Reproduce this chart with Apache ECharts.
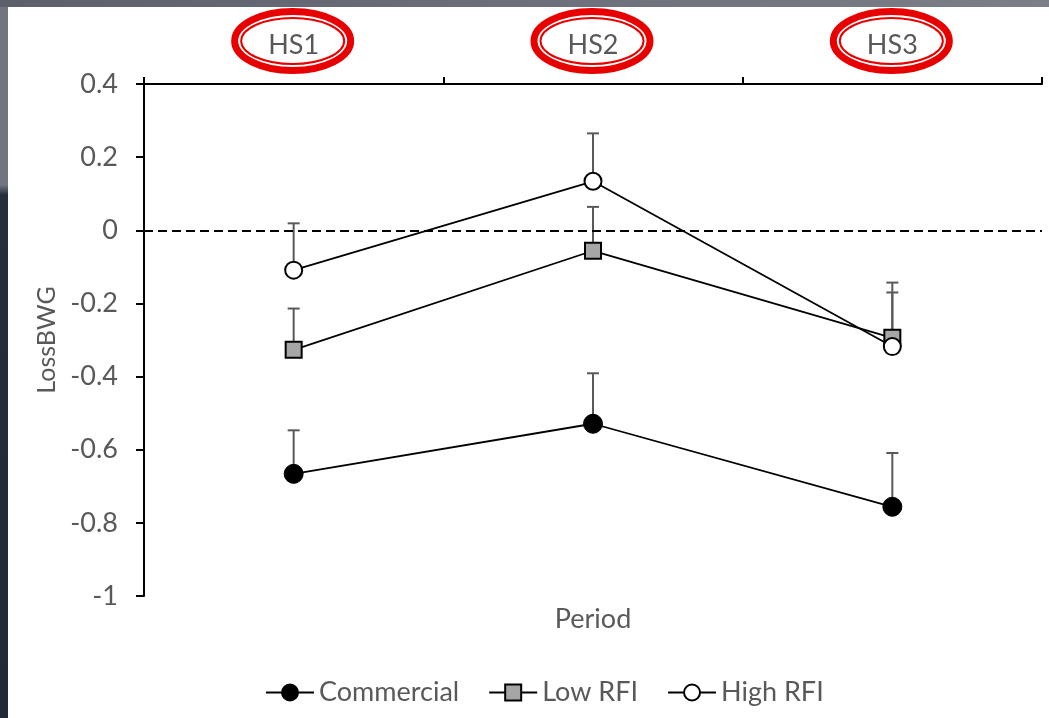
<!DOCTYPE html>
<html>
<head>
<meta charset="utf-8">
<script src="https://cdn.jsdelivr.net/npm/echarts@6/dist/echarts.min.js"></script>
<style>
html,body{margin:0;padding:0;width:1049px;height:718px;overflow:hidden;}
/* dark slide frame round the white chart area */
body{background:linear-gradient(to bottom,#70757f 0,#70757f 185px,#262d3b 195px,#222936 100%);}
.top_strip{position:absolute;left:0;top:0;width:1049px;height:7px;background:linear-gradient(to right,#5b606b,#7b7f88);}
#chart{position:absolute;left:8px;top:7px;width:1041px;height:711px;background:#fff;}
</style>
</head>
<body>
<div class="top_strip"></div>
<div id="chart"></div>
<script>
// periods and tick labels
var categories = ['HS1', 'HS2', 'HS3'];
var yMin = -1, yMax = 0.4, yStep = 0.2;

// group means and top of the error bar (mean + SE)
var commercialMean = [-0.666, -0.529, -0.756];
var commercialUpper = [-0.547, -0.391, -0.609];
var lowMean = [-0.327, -0.056, -0.294];
var lowUpper = [-0.214, 0.064, -0.170];
var highMean = [-0.109, 0.134, -0.318];
var highUpper = [0.019, 0.265, -0.143];

var font = 'Lato';
var grey = '#595959';
var fs = 27;

function errData(mean, upper) {
	var out = [];
	for (var i = 0; i < mean.length; i++) {
		out.push([i, mean[i], upper[i]]);
	}
	return out;
}

// vertical whisker with a cap, only upwards
function renderErr(params, api) {
	var base = api.coord([api.value(0), api.value(1)]);
	var top = api.coord([api.value(0), api.value(2)]);
	var style = {stroke: grey, lineWidth: 2};
	return {
		type: 'group',
		children: [
			{type: 'line', shape: {x1: base[0], y1: base[1], x2: top[0], y2: top[1]}, style: style},
			{type: 'line', shape: {x1: top[0] - 6, y1: top[1], x2: top[0] + 6, y2: top[1]}, style: style}
		]
	};
}

var myChart = echarts.init(document.getElementById('chart'));

var option = {
	animation: false,
	textStyle: {fontFamily: font, color: grey},
	grid: {left: 136, right: 7, top: 77, bottom: 122},
	legend: {
		left: 252,
		top: 667,
		itemWidth: 48,
		itemHeight: 20,
		itemGap: 29,
		textStyle: {fontFamily: font, fontSize: fs, color: grey},
		data: ['Commercial', 'Low RFI', 'High RFI']
	},
	xAxis: [{
		type: 'category',
		position: 'top',
		data: categories,
		boundaryGap: true,
		axisLine: {onZero: false, lineStyle: {color: '#000', width: 2}},
		axisTick: {show: true, length: 7, lineStyle: {color: '#000', width: 2}},
		axisLabel: {fontSize: fs, color: grey, margin: 25, fontFamily: font}
	}, {
		// bottom axis only carries the name
		type: 'category',
		position: 'bottom',
		data: categories,
		axisLine: {show: false, onZero: false},
		axisTick: {show: false},
		axisLabel: {show: false},
		name: 'Period',
		nameLocation: 'middle',
		nameGap: 10,
		nameTextStyle: {fontSize: fs, color: grey, fontFamily: font}
	}],
	yAxis: {
		type: 'value',
		min: yMin,
		max: yMax,
		interval: yStep,
		name: 'LossBWG',
		nameLocation: 'middle',
		nameGap: 84,
		nameTextStyle: {fontSize: 25, color: grey, fontFamily: font},
		axisLine: {show: true, lineStyle: {color: '#000', width: 2}},
		axisTick: {show: true, length: 8, lineStyle: {color: '#000', width: 2}},
		axisLabel: {fontSize: fs, color: grey, margin: 26, fontFamily: font},
		splitLine: {show: false}
	},
	series: [
		{
			type: 'custom',
			name: 'err_c',
			renderItem: renderErr,
			data: errData(commercialMean, commercialUpper),
			z: 1,
			silent: true
		},
		{
			type: 'custom',
			name: 'err_l',
			renderItem: renderErr,
			data: errData(lowMean, lowUpper),
			z: 1,
			silent: true
		},
		{
			type: 'custom',
			name: 'err_h',
			renderItem: renderErr,
			data: errData(highMean, highUpper),
			z: 1,
			silent: true
		},
		{
			name: 'Commercial',
			type: 'line',
			data: commercialMean,
			symbol: 'circle',
			symbolSize: 19,
			lineStyle: {color: '#000', width: 1.8},
			itemStyle: {color: '#000', borderColor: '#000', borderWidth: 1},
			z: 3,
			markLine: {    // dashed zero line
				silent: true,
				symbol: 'none',
				label: {show: false},
				lineStyle: {color: '#000', type: [9, 5], width: 2},
				data: [{yAxis: 0}]
			}
		},
		{
			name: 'Low RFI',
			type: 'line',
			data: lowMean,
			symbol: 'rect',
			symbolSize: 16,
			lineStyle: {color: '#000', width: 1.8},
			itemStyle: {color: '#a6a6a6', borderColor: '#000', borderWidth: 2},
			z: 3
		},
		{
			name: 'High RFI',
			type: 'line',
			data: highMean,
			symbol: 'circle',
			symbolSize: 17,
			lineStyle: {color: '#000', width: 1.8},
			itemStyle: {color: '#fff', borderColor: '#000', borderWidth: 2},
			z: 4
		}
	]
};
myChart.setOption(option);

// red double ellipses round the period labels
var rings = [];
for (var i = 0; i < categories.length; i++) {
	var cx = myChart.convertToPixel({xAxisIndex: 0}, categories[i]);
	rings.push({
		type: 'ellipse', silent: true, z: 10,
		shape: {cx: cx - 1, cy: 34, rx: 58, ry: 29.5},
		style: {fill: null, stroke: '#e80000', lineWidth: 7}
	});
	rings.push({
		type: 'ellipse', silent: true, z: 10,
		shape: {cx: cx - 1, cy: 34, rx: 51.5, ry: 23},
		style: {fill: null, stroke: '#e80000', lineWidth: 2}
	});
}
myChart.setOption({graphic: rings});
</script>
</body>
</html>
